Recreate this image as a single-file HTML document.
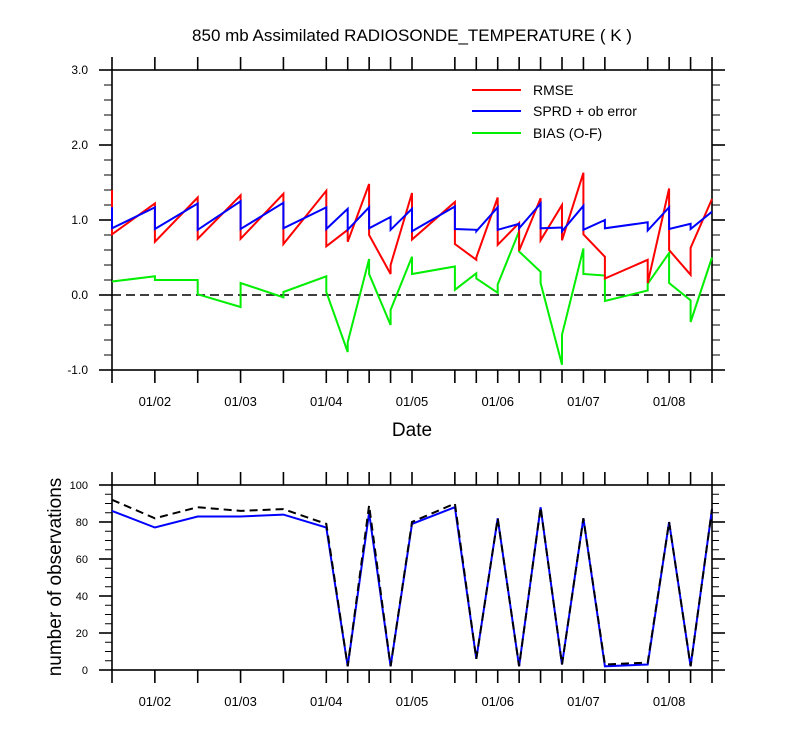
<!DOCTYPE html>
<html><head><meta charset="utf-8">
<style>
html,body{margin:0;padding:0;background:#fff;}
svg{display:block;font-family:"Liberation Sans",Arial,sans-serif;}
</style></head>
<body>
<svg id="chart" width="800" height="750" viewBox="0 0 800 750" xmlns="http://www.w3.org/2000/svg">
<rect width="800" height="750" fill="#fff"/>
<text x="412" y="41" text-anchor="middle" font-size="17">850 mb Assimilated RADIOSONDE_TEMPERATURE ( K )</text>
<text x="412" y="436" text-anchor="middle" font-size="19">Date</text>
<text transform="translate(61,577) rotate(-90)" text-anchor="middle" font-size="19">number of observations</text>
<g id="g"></g>
</svg>
<script>
// times in days since 01/01 12Z
const times = [0,0.5,1,1.5,2,2.5,2.75,3,3.25,3.5,4,4.25,4.5,4.75,5,5.25,5.5,5.75,6.25,6.5,6.75,7];
const dateLabels = ["01/02","01/03","01/04","01/05","01/06","01/07","01/08"];
const dateTimes = [0.5,1.5,2.5,3.5,4.5,5.5,6.5];
const topTicks = ["3.0","2.0","1.0","0.0","-1.0"];
const topTickVals = [3,2,1,0,-1];
const botTickVals = [0,20,40,60,80,100];
// [time, value] pairs; repeated times give vertical jumps
const rmseT = [0,0,0.5,0.5,1,1,1.5,1.5,2,2,2.5,2.5,2.75,2.75,3,3,3.25,3.25,3.5,3.5,4,4,4.25,4.25,4.5,4.5,4.75,4.75,5,5,5.25,5.25,5.5,5.5,5.75,5.75,6.25,6.25,6.5,6.5,6.75,6.75,7];
const rmseV = [1.40,0.81,1.22,0.71,1.30,0.75,1.33,0.75,1.35,0.68,1.39,0.65,0.87,0.71,1.48,0.80,0.28,0.40,1.36,0.74,1.24,0.68,0.47,0.50,1.30,0.67,0.96,0.59,1.29,0.73,1.20,0.73,1.63,0.81,0.51,0.22,0.47,0.16,1.42,0.60,0.27,0.63,1.28];
const sprdT = [0,0,0.5,0.5,1,1,1.5,1.5,2,2,2.5,2.5,2.75,2.75,3,3,3.25,3.25,3.5,3.5,4,4,4.25,4.25,4.5,4.5,4.75,4.75,5,5,5.25,5.25,5.5,5.5,5.75,5.75,6.25,6.25,6.5,6.5,6.75,6.75,7];
const sprdV = [1.17,0.89,1.17,0.88,1.22,0.87,1.25,0.88,1.23,0.89,1.17,0.88,1.15,0.87,1.17,0.89,1.04,0.87,1.15,0.85,1.18,0.88,0.87,0.85,1.17,0.87,0.95,0.89,1.22,0.89,0.90,0.85,1.19,0.87,1.00,0.89,0.97,0.86,1.17,0.88,0.95,0.88,1.11];
const biasT = [0,0.5,0.5,1,1,1.5,1.5,2,2,2.5,2.5,2.75,2.75,3,3,3.25,3.25,3.5,3.5,4,4,4.25,4.25,4.5,4.5,4.75,4.75,5,5,5.25,5.25,5.5,5.5,5.75,5.75,6.25,6.25,6.5,6.5,6.75,6.75,7];
const biasV = [0.18,0.25,0.20,0.20,0.01,-0.16,0.16,-0.03,0.04,0.25,0.04,-0.76,-0.63,0.48,0.28,-0.40,-0.20,0.51,0.28,0.38,0.07,0.29,0.22,0.03,0.14,0.85,0.58,0.31,0.16,-0.93,-0.53,0.62,0.28,0.26,-0.08,0.06,0.15,0.56,0.16,-0.07,-0.36,0.50];
const nobsUsed = [86,77,83,83,84,77,2,85,2,79,88,6,82,2,88,3,82,2,3,80,2,87];
const nobsTotal = [92,82,88,86,87,79,2,89,2,80,90,6,82,2,88,3,82,3,4,80,2,87];

const NS="http://www.w3.org/2000/svg";
const g=document.getElementById('g');
const X0=112,X1=712;
const xs=t=>X0+(X1-X0)*t/7;
const T={top:70,bot:370,min:-1,max:3};
const B={top:485,bot:670,min:0,max:100};
const yT=v=>T.bot-(v-T.min)/(T.max-T.min)*(T.bot-T.top);
const yB=v=>B.bot-(v-B.min)/(B.max-B.min)*(B.bot-B.top);
function el(tag,attrs,parent){const e=document.createElementNS(NS,tag);for(const k in attrs)e.setAttribute(k,attrs[k]);(parent||g).appendChild(e);return e;}

function panel(P,ys,name){
  const f=el('rect',{x:X0,y:P.top,width:X1-X0,height:P.bot-P.top,fill:'none',stroke:'#000','stroke-width':1.6});
  
  
  times.forEach(t=>{
    const x=xs(t);
    const a=el('line',{x1:x,x2:x,y1:P.bot,y2:P.bot+13,stroke:'#000','stroke-width':1.6});
    
    
    const b=el('line',{x1:x,x2:x,y1:P.top,y2:P.top-13,stroke:'#000','stroke-width':1.6});
    
    
  });
  dateLabels.forEach((d,i)=>{
    const tx=el('text',{x:xs(dateTimes[i]),y:P.bot+36,'text-anchor':'middle','font-size':13});
    tx.textContent=d;
    
    
  });
}
panel(T,yT,'top-panel');
panel(B,yB,'bottom-panel');

for(let v=-1;v<=3.001;v+=0.2){
  const major=Math.abs(v-Math.round(v))<1e-6;
  const L=major?13:8;
  const y=yT(v);
  const a=el('line',{x1:X0-L,x2:X0,y1:y,y2:y,stroke:'#000','stroke-width':major?1.6:1});
  
  
  const b=el('line',{x1:X1,x2:X1+L,y1:y,y2:y,stroke:'#000','stroke-width':major?1.6:1});
  
  
}
topTickVals.forEach((v,i)=>{
  const tx=el('text',{x:88,y:yT(v)+4,'text-anchor':'end','font-size':12});
  tx.textContent=topTicks[i];
  
  
});
for(let v=0;v<=100;v+=5){
  const major=v%20===0;
  const L=major?13:7;
  const y=yB(v);
  const a=el('line',{x1:X0-L,x2:X0,y1:y,y2:y,stroke:'#000','stroke-width':major?1.6:1});
  
  
  const b=el('line',{x1:X1,x2:X1+L,y1:y,y2:y,stroke:'#000','stroke-width':major?1.6:1});
  
  
}
botTickVals.forEach(v=>{
  const tx=el('text',{x:88,y:yB(v)+4,'text-anchor':'end','font-size':11});
  tx.textContent=String(v);
  
  
});

const z=el('line',{x1:X0,x2:X1,y1:yT(0),y2:yT(0),stroke:'#000','stroke-width':1.6,'stroke-dasharray':'9,5'});



function series(tArr,vArr,ys,color,name,dash){
  const pts=tArr.map((t,i)=>xs(t).toFixed(1)+','+ys(vArr[i]).toFixed(1)).join(' ');
  const p=el('polyline',{points:pts,fill:'none',stroke:color,'stroke-width':2,'stroke-linejoin':'miter'});
  if(dash)p.setAttribute('stroke-dasharray',dash);
  
  
}
series(biasT,biasV,yT,'#00ee00','bias-line');
series(rmseT,rmseV,yT,'#ff0000','rmse-line');
series(sprdT,sprdV,yT,'#0000ff','sprd-line');
series(times,nobsUsed,yB,'#0000ff','nobs-used-line');
series(times,nobsTotal,yB,'#000000','nobs-total-line','8,5');

const legNames=['RMSE','SPRD + ob error','BIAS (O-F)'];
const legColors=['#ff0000','#0000ff','#00ee00'];
const legY=[90,111,133];
legNames.forEach((n,i)=>{
  const l=el('line',{x1:472,x2:521,y1:legY[i],y2:legY[i],stroke:legColors[i],'stroke-width':2});
  
  
  const tx=el('text',{x:533,y:legY[i]+5,'font-size':14});
  tx.textContent=n;
  
  
});
</script>
</body></html>
